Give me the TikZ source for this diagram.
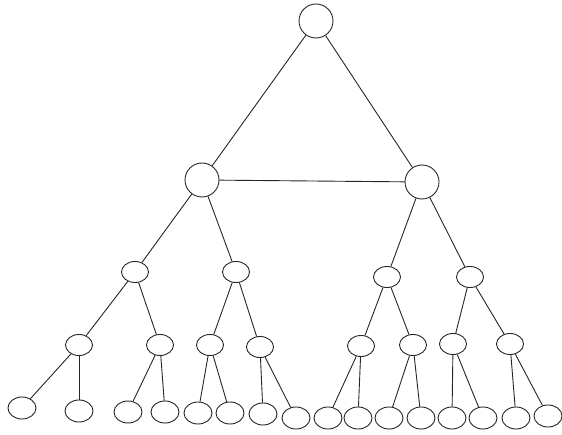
\documentclass[tikz,border=0pt]{standalone}
\usetikzlibrary{shapes.geometric}
\begin{document}
\begin{tikzpicture}[x=1pt,y=-1pt, line width=0.9pt,
  edge/.style={draw=black!85},
  big/.style={draw=black!85, circle, minimum size=34pt, inner sep=0pt},
  mid/.style={draw=black!85, ellipse, minimum width=27pt, minimum height=21pt, inner sep=0pt},
  leaf/.style={draw=black!85, ellipse, minimum width=28pt, minimum height=22pt, inner sep=0pt}]
\path[use as bounding box] (0,0) rectangle (562,435);
% top
\node[big] (r) at (316,21) {};
\node[big] (a) at (202,180) {};
\node[big] (b) at (422,182) {};
% level 2
\node[mid] (a1) at (135,272) {};
\node[mid] (a2) at (236,272) {};
\node[mid] (b1) at (387,277) {};
\node[mid] (b2) at (470,277) {};
% level 3
\node[mid] (c1) at (79,345) {};
\node[mid] (c2) at (160,345) {};
\node[mid] (c3) at (210,345) {};
\node[mid] (c4) at (260,347) {};
\node[mid] (c5) at (361,346) {};
\node[mid] (c6) at (413,345) {};
\node[mid] (c7) at (453,344) {};
\node[mid] (c8) at (510,344) {};
% leaves
\node[leaf] (l1) at (22,408) {};
\node[leaf] (l2) at (79,411) {};
\node[leaf] (l3) at (128,412) {};
\node[leaf] (l4) at (165,412) {};
\node[leaf] (l5) at (198,413) {};
\node[leaf] (l6) at (230,413) {};
\node[leaf] (l7) at (263,414) {};
\node[leaf] (l8) at (296,418) {};
\node[leaf] (l9) at (328,418) {};
\node[leaf] (l10) at (358,418) {};
\node[leaf] (l11) at (389,418) {};
\node[leaf] (l12) at (421,418) {};
\node[leaf] (l13) at (452,418) {};
\node[leaf] (l14) at (483,418) {};
\node[leaf] (l15) at (516,418) {};
\node[leaf] (l16) at (548,416) {};
% edges
\draw[edge] (r) -- (a);
\draw[edge] (r) -- (b);
\draw[edge] (a) -- (b);
\draw[edge] (a) -- (a1);
\draw[edge] (a) -- (a2);
\draw[edge] (b) -- (b1);
\draw[edge] (b) -- (b2);
\draw[edge] (a1) -- (c1);
\draw[edge] (a1) -- (c2);
\draw[edge] (a2) -- (c3);
\draw[edge] (a2) -- (c4);
\draw[edge] (b1) -- (c5);
\draw[edge] (b1) -- (c6);
\draw[edge] (b2) -- (c7);
\draw[edge] (b2) -- (c8);
\draw[edge] (c1) -- (l1);
\draw[edge] (c1) -- (l2);
\draw[edge] (c2) -- (l3);
\draw[edge] (c2) -- (l4);
\draw[edge] (c3) -- (l5);
\draw[edge] (c3) -- (l6);
\draw[edge] (c4) -- (l7);
\draw[edge] (c4) -- (l8);
\draw[edge] (c5) -- (l9);
\draw[edge] (c5) -- (l10);
\draw[edge] (c6) -- (l11);
\draw[edge] (c6) -- (l12);
\draw[edge] (c7) -- (l13);
\draw[edge] (c7) -- (l14);
\draw[edge] (c8) -- (l15);
\draw[edge] (c8) -- (l16);
\end{tikzpicture}
\end{document}
